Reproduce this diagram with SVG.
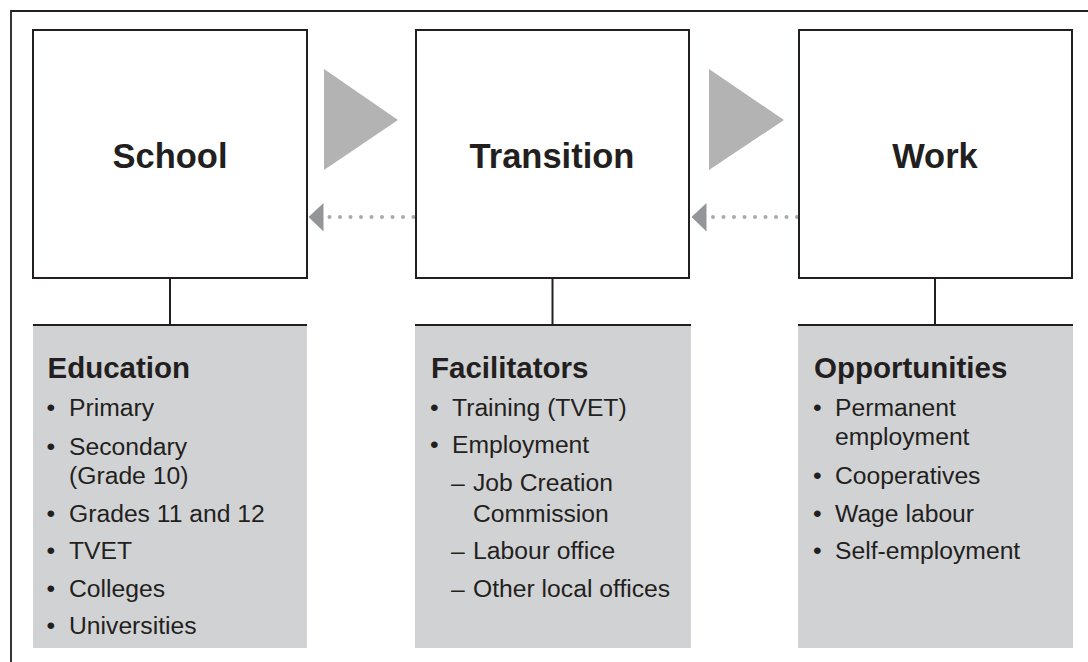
<svg xmlns="http://www.w3.org/2000/svg" width="1088" height="662" viewBox="0 0 1088 662">
<style>
  .frame{fill:none;stroke:#231f20;stroke-width:1.8}
  .box{fill:#ffffff;stroke:#231f20;stroke-width:2}
  .panel{fill:#d1d2d4;stroke:none}
  .rule{stroke:#231f20;stroke-width:2;fill:none}
  .title{font-family:"Liberation Sans",Arial,sans-serif;font-weight:bold;font-size:34.5px;fill:#231f20;text-anchor:middle}
  .head{font-family:"Liberation Sans",Arial,sans-serif;font-weight:bold;font-size:29.5px;fill:#231f20}
  .item{font-family:"Liberation Sans",Arial,sans-serif;font-size:24.7px;fill:#231f20}
  .flow{fill:#b3b3b3}
  .back{fill:#939598}
  .dot{fill:#a7a9ac}
</style>
<defs>
  <g id="dotrow">
    <circle class="dot" cx="0" cy="0" r="2"/>
    <circle class="dot" cx="10.5" cy="0" r="2"/>
    <circle class="dot" cx="21" cy="0" r="2"/>
    <circle class="dot" cx="31.5" cy="0" r="2"/>
    <circle class="dot" cx="42" cy="0" r="2"/>
    <circle class="dot" cx="52.5" cy="0" r="2"/>
    <circle class="dot" cx="63" cy="0" r="2"/>
    <circle class="dot" cx="73.5" cy="0" r="2"/>
    <circle class="dot" cx="84" cy="0" r="2"/>
  </g>
</defs>
<rect width="1088" height="662" fill="#ffffff"/>
<path class="frame" d="M11,662 V11 H1088"/>

<g id="connectors">
  <polygon class="flow" points="324,69 398,120 324,170"/>
  <polygon class="flow" points="709,69 784,120 709,170"/>
  <use href="#dotrow" x="329.5" y="217"/>
  <polygon class="back" points="308.5,217 323.5,203 323.5,231.5"/>
  <use href="#dotrow" x="713" y="217"/>
  <polygon class="back" points="691.5,217 706.5,203 706.5,231.5"/>
  <line class="rule" x1="170" y1="278" x2="170" y2="325"/>
  <line class="rule" x1="552.5" y1="278" x2="552.5" y2="325"/>
  <line class="rule" x1="935" y1="278" x2="935" y2="325"/>
</g>

<g id="school">
  <rect class="box" x="33" y="30" width="274" height="248"/>
  <text class="title" x="170" y="168">School</text>
</g>
<g id="transition">
  <rect class="box" x="416" y="30" width="273" height="248"/>
  <text class="title" x="552" y="168">Transition</text>
</g>
<g id="work">
  <rect class="box" x="799" y="30" width="273" height="248"/>
  <text class="title" x="935" y="168">Work</text>
</g>

<g id="education">
  <rect class="panel" x="33" y="325" width="274" height="323"/>
  <line class="rule" x1="33" y1="325" x2="307" y2="325"/>
  <text class="head" x="47.5" y="378">Education</text>
  <text class="item" x="46.5" y="416">•</text><text class="item" x="69" y="416">Primary</text>
  <text class="item" x="46.5" y="454.5">•</text><text class="item" x="69" y="454.5">Secondary</text>
  <text class="item" x="69" y="483.5">(Grade 10)</text>
  <text class="item" x="46.5" y="521.5">•</text><text class="item" x="69" y="521.5">Grades 11 and 12</text>
  <text class="item" x="46.5" y="558.5">•</text><text class="item" x="69" y="558.5">TVET</text>
  <text class="item" x="46.5" y="596.5">•</text><text class="item" x="69" y="596.5">Colleges</text>
  <text class="item" x="46.5" y="633.5">•</text><text class="item" x="69" y="633.5">Universities</text>
</g>

<g id="facilitators">
  <rect class="panel" x="415" y="325" width="276" height="323"/>
  <line class="rule" x1="415" y1="325" x2="691" y2="325"/>
  <text class="head" x="431" y="378">Facilitators</text>
  <text class="item" x="430" y="416">•</text><text class="item" x="452" y="416">Training (TVET)</text>
  <text class="item" x="430" y="453">•</text><text class="item" x="452" y="453">Employment</text>
  <text class="item" x="451" y="491">–</text><text class="item" x="473" y="491">Job Creation</text>
  <text class="item" x="473" y="521.5">Commission</text>
  <text class="item" x="451" y="558.5">–</text><text class="item" x="473" y="558.5">Labour office</text>
  <text class="item" x="451" y="596.5">–</text><text class="item" x="473" y="596.5">Other local offices</text>
</g>

<g id="opportunities">
  <rect class="panel" x="798" y="325" width="275" height="323"/>
  <line class="rule" x1="798" y1="325" x2="1073" y2="325"/>
  <text class="head" x="814" y="378">Opportunities</text>
  <text class="item" x="813" y="416">•</text><text class="item" x="835" y="416">Permanent</text>
  <text class="item" x="835" y="445">employment</text>
  <text class="item" x="813" y="484">•</text><text class="item" x="835" y="484">Cooperatives</text>
  <text class="item" x="813" y="521.5">•</text><text class="item" x="835" y="521.5">Wage labour</text>
  <text class="item" x="813" y="558.5">•</text><text class="item" x="835" y="558.5">Self-employment</text>
</g>
</svg>
